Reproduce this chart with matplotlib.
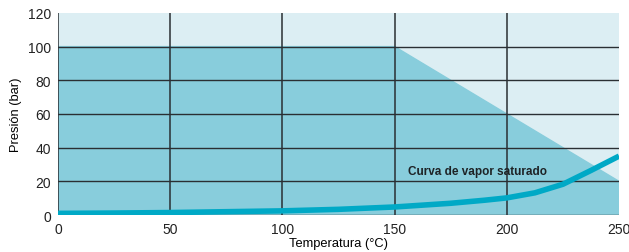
import matplotlib.pyplot as plt

# Datos
temp_curva = [0, 25, 50, 75, 100, 125, 150, 175, 190, 200, 212.5, 225, 237.5, 250]
pres_curva = [1.0, 1.2, 1.5, 2.0, 2.5, 3.4, 4.8, 7.0, 8.8, 10.2, 13.2, 18.3, 26.5, 35.0]

# Zona de trabajo (área oscura)
temp_zona = [0, 0, 150, 250, 250]
pres_zona = [0, 100, 100, 20, 0]

xticks = [0, 50, 100, 150, 200, 250]
yticks = [0, 20, 40, 60, 80, 100, 120]

plt.rcParams['font.family'] = ['Liberation Sans', 'DejaVu Sans']

fig = plt.figure(figsize=(6.29, 2.53), dpi=100)
ax = fig.add_axes([0.0922, 0.146, 0.892, 0.799])
ax.set_facecolor("#dcEEF3")

ax.fill(temp_zona, pres_zona, color="#88CDDC", zorder=1)

for x in xticks[:-1]:
    ax.axvline(x, color="#2a2f33", lw=1.1, zorder=2)
for y in yticks[:-1]:
    ax.axhline(y, color="#2a2f33", lw=1.0, zorder=2)

ax.plot(temp_curva, pres_curva, color="#00A9C6", lw=4, solid_capstyle="butt",
        solid_joinstyle="round", zorder=3)

ax.text(156, 26, "Curva de vapor saturado", fontsize=8.5, fontweight="bold",
        family=['Liberation Sans Narrow', 'Liberation Sans', 'DejaVu Sans'],
        color="#1e2326", va="center", zorder=4)

ax.set_xlim(0, 250)
ax.set_ylim(0, 120)
ax.set_xticks(xticks)
ax.set_yticks(yticks)
ax.tick_params(length=0, labelsize=10, colors="#222222", pad=5)
for s in ax.spines.values():
    s.set_visible(False)

ax.set_xlabel("Temperatura (°C)", fontsize=9.3, labelpad=1)
ax.set_ylabel("Presión (bar)", fontsize=9.3, labelpad=4)

plt.savefig("out.png", dpi=100)
